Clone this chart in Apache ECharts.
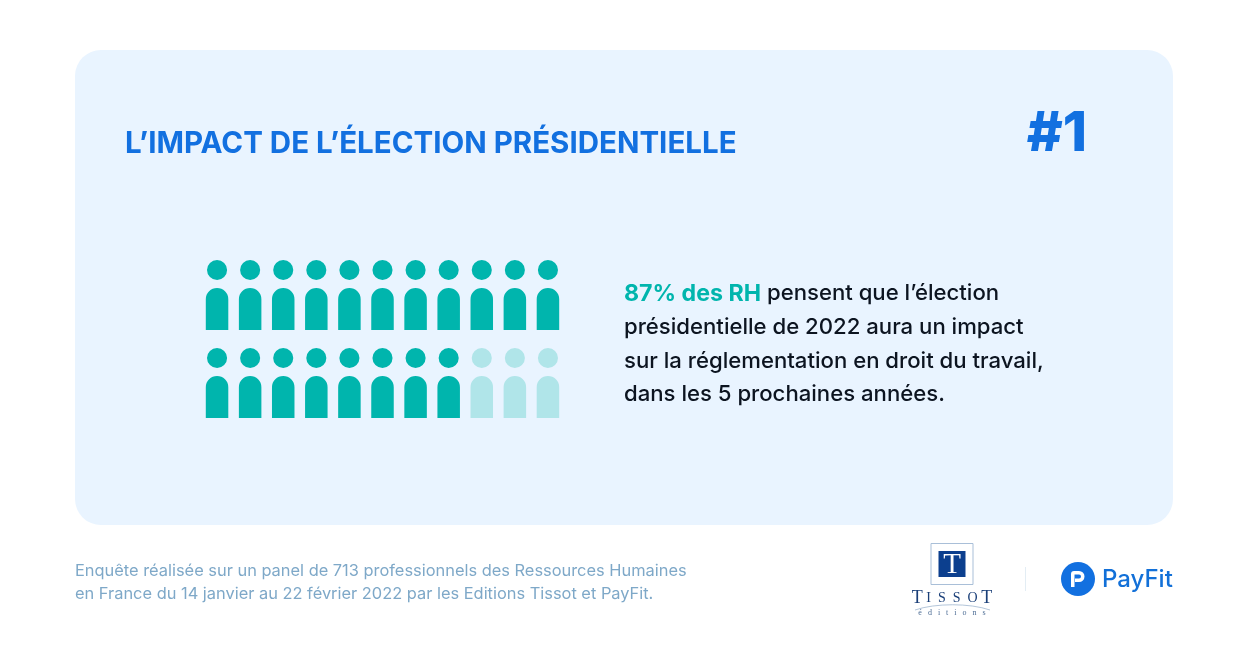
<!DOCTYPE html>
<html>
<head>
<meta charset="utf-8">
<style>
  html, body { margin: 0; padding: 0; background: #fff; }
  #chart { width: 1248px; height: 655px; }
</style>
<script src="https://cdn.jsdelivr.net/npm/echarts@6/dist/echarts.min.js"></script>
</head>
<body>
<div id="chart"></div>
<script>
// Data
const columns = ['1', '2', '3', '4', '5', '6', '7', '8', '9', '10', '11'];
const rows = ['Rang 1', 'Rang 2'];
const filledPerRow = [11, 8];

const titleText = 'L’IMPACT DE L’ÉLECTION PRÉSIDENTIELLE';
const rankText = '#1';
const highlightText = '87% des RH';
const bodyLines = [
    ' pensent que l’élection',
    'présidentielle de 2022 aura un impact',
    'sur la réglementation en droit du travail,',
    'dans les 5 prochaines années.'
];
const footerLines = [
    'Enquête réalisée sur un panel de 713 professionnels des Ressources Humaines',
    'en France du 14 janvier au 22 février 2022 par les Editions Tissot et PayFit.'
];

const TEAL = '#00b5ad';
const TEAL_LIGHT = '#b0e5e9';
const BLUE = '#1270e0';
const FONT = 'Inter';

// Silhouette: round head above an arched body
const personPath = 'path://M112 0A100 100 0 1 1 112 200A100 100 0 1 1 112 0Z' +
    'M0 700L0 392A112 112 0 0 1 224 392L224 700Z';

// P du logo PayFit
echarts.graphic.registerShape('payfitP', echarts.graphic.extendPath(
    'M0 16V3A3 3 0 0 1 3 0H8A5.5 5.5 0 0 1 8 11H4V7.500H8A2 2 0 0 0 8 3.500H3.500V16Z', {}
));

// Build the people from the arrays
const filledData = [];
const lightData = [];
rows.forEach((row, r) => {
    columns.forEach((col, c) => {
        if (c < filledPerRow[r]) {
            filledData.push([col, row]);
        } else {
            lightData.push([col, row]);
        }
    });
});

const personSeries = (name, data, color) => ({
    name: name,
    type: 'scatter',
    data: data,
    symbol: personPath,
    symbolSize: [22.5, 70],
    silent: true,
    itemStyle: { color: color, opacity: 1 }
});

const myChart = echarts.init(document.getElementById('chart'), null, { renderer: 'canvas' });

const option = {
    animation: false,
    backgroundColor: '#ffffff',
    grid: { left: 200.5, top: 251, width: 364, height: 176 },
    xAxis: {
        type: 'category',
        data: columns,
        show: false
    },
    yAxis: {
        type: 'category',
        data: rows,
        inverse: true,
        show: false
    },
    series: [
        personSeries('Pensent que oui', filledData, TEAL),
        personSeries('Autres', lightData, TEAL_LIGHT)
    ],
    graphic: [
        // Carte de fond
        {
            type: 'rect', z: -10, silent: true,
            shape: { x: 75, y: 50, width: 1098, height: 475, r: 26 },
            style: { fill: '#e9f4ff' }
        },
        {
            type: 'text', silent: true, x: 125, y: 144,
            style: {
                text: titleText, fill: BLUE, font: `700 29.5px ${FONT}`,
                textVerticalAlign: 'middle'
            }
        },
        {
            type: 'text', silent: true, x: 1087, y: 134,
            style: {
                text: rankText, fill: BLUE, font: `800 55px ${FONT}`,
                textAlign: 'right', textVerticalAlign: 'middle'
            }
        },
        {
            type: 'text', silent: true, x: 624, y: 277,
            style: {
                text: `{h|${highlightText}}{t|${bodyLines[0]}}\n{t|${bodyLines[1]}}\n{t|${bodyLines[2]}}\n{t|${bodyLines[3]}}`,
                rich: {
                    h: { font: `700 23.2px ${FONT}`, fill: TEAL, lineHeight: 33.6 },
                    t: { font: `500 22.15px ${FONT}`, fill: '#0c1420', lineHeight: 33.6 }
                }
            }
        },
        {
            type: 'text', silent: true, x: 75, y: 560,
            style: {
                text: footerLines.join('\n'), fill: '#7ea8c8',
                font: `400 16.4px ${FONT}`, lineHeight: 23
            }
        },
        // Logo Tissot
        {
            type: 'rect', silent: true,
            shape: { x: 931, y: 543.5, width: 42, height: 41 },
            style: { fill: '#ffffff', stroke: '#a9bfd8', lineWidth: 1 }
        },
        {
            type: 'rect', silent: true,
            shape: { x: 938.5, y: 551, width: 27, height: 26 },
            style: { fill: '#0c3f8e' }
        },
        {
            type: 'text', silent: true, x: 952, y: 565,
            style: {
                text: 'T', fill: '#ffffff', font: '400 29px "Liberation Serif"',
                textAlign: 'center', textVerticalAlign: 'middle'
            }
        },
        {
            type: 'text', silent: true, x: 952, y: 598,
            style: {
                text: '{a|T}{b| I  S  S  O }{a|T}',
                textAlign: 'center', textVerticalAlign: 'middle',
                rich: {
                    a: { font: '400 18px "Liberation Serif"', fill: '#1a3f78' },
                    b: { font: '400 14px "Liberation Serif"', fill: '#1a3f78' }
                }
            }
        },
        {
            type: 'bezierCurve', silent: true,
            shape: { x1: 915, y1: 610, cpx1: 935, cpy1: 603, cpx2: 970, cpy2: 603, x2: 990, y2: 610 },
            style: { stroke: '#9fb6cf', lineWidth: 0.8, fill: 'none' }
        },
        {
            type: 'text', silent: true, x: 952, y: 613,
            style: {
                text: 'é   d   i   t   i   o   n   s', fill: '#4c6c94', font: '400 8px "Liberation Serif"',
                textAlign: 'center', textVerticalAlign: 'middle'
            }
        },
        // Séparateur
        {
            type: 'line', silent: true,
            shape: { x1: 1025.5, y1: 567, x2: 1025.5, y2: 591 },
            style: { stroke: '#e3edf4', lineWidth: 1 }
        },
        // Logo PayFit
        {
            type: 'circle', silent: true,
            shape: { cx: 1078, cy: 579, r: 17 },
            style: { fill: BLUE }
        },
        {
            type: 'payfitP', silent: true, x: 1071, y: 571,
            style: { fill: '#ffffff' }
        },
        {
            type: 'text', silent: true, x: 1102, y: 580,
            style: {
                text: 'PayFit', fill: '#1270d8', font: `500 24px ${FONT}`,
                textVerticalAlign: 'middle'
            }
        }
    ]
};

myChart.setOption(option);
</script>
</body>
</html>
